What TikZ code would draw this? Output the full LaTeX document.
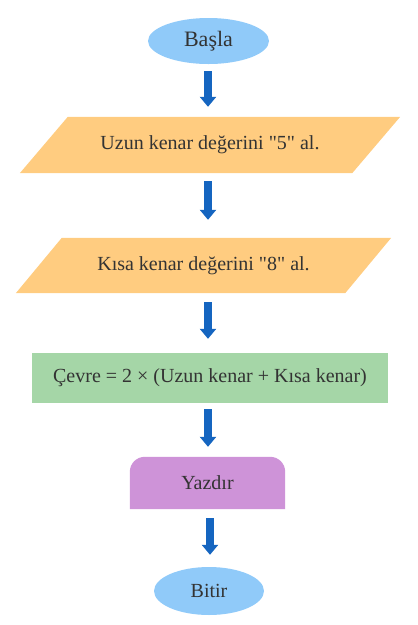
\documentclass[tikz,border=0pt]{standalone}
\usepackage{fontspec}
\setmainfont{Liberation Serif}[Ligatures=TeXOff]
\usetikzlibrary{shapes.geometric,arrows.meta,backgrounds}
\definecolor{ovalc}{HTML}{90CAF9}
\definecolor{ioc}{HTML}{FFCC80}
\definecolor{procc}{HTML}{A5D6A7}
\definecolor{outc}{HTML}{CE93D8}
\definecolor{arrc}{HTML}{1565C0}
\definecolor{txtc}{HTML}{333333}
\begin{document}
\begin{tikzpicture}[x=1pt,y=-1pt,
  every node/.style={text=txtc,font=\fontsize{20}{22}\selectfont,inner sep=0pt},
  oval/.style={ellipse,fill=ovalc},
  iobox/.style={rectangle},
  procbox/.style={rectangle,fill=procc},
  flowarr/.style={draw=arrc,line width=7.5pt,-{Triangle[width=16pt,length=10pt]}}
]
\useasboundingbox (0,0) rectangle (418,625);
\node[oval,minimum width=121pt,minimum height=46pt,font=\fontsize{22}{24}\selectfont] (basla) at (208.5,41) {Başla};
\node[iobox,minimum width=332pt,minimum height=56pt] (p1) at (210,145) {Uzun kenar değerini "5" al.};
\node[iobox,minimum width=329pt,minimum height=55pt] (p2) at (203.5,265.5) {Kısa kenar değerini "8" al.};
\node[procbox,minimum width=356pt,minimum height=50pt] (calc) at (210,378) {Çevre = 2 × (Uzun kenar + Kısa kenar)};
\node[minimum width=155pt,minimum height=52pt] (yaz) at (207.5,483) {Yazdır};
\node[oval,minimum width=110pt,minimum height=48pt] (bitir) at (209,591) {Bitir};
\begin{scope}[on background layer]
\fill[ioc] ([xshift=24pt]p1.north west) -- ([xshift=24pt]p1.north east) -- ([xshift=-24pt]p1.south east) -- ([xshift=-24pt]p1.south west) -- cycle;
\fill[ioc] ([xshift=23pt]p2.north west) -- ([xshift=23pt]p2.north east) -- ([xshift=-23pt]p2.south east) -- ([xshift=-23pt]p2.south west) -- cycle;
\fill[outc,rounded corners=15pt] (yaz.south east) -- (yaz.north east) -- (yaz.north west) -- (yaz.south west);
\end{scope}
\coordinate (ax) at (208,0);
\coordinate (bx) at (210,0);
\draw[flowarr,shorten <=7pt,shorten >=10pt] (ax |- basla.south) -- (ax |- p1.north);
\draw[flowarr,shorten <=8pt,shorten >=18pt] (ax |- p1.south) -- (ax |- p2.north);
\draw[flowarr,shorten <=9pt,shorten >=14pt] (ax |- p2.south) -- (ax |- calc.north);
\draw[flowarr,shorten <=6pt,shorten >=10pt] (ax |- calc.south) -- (ax |- yaz.north);
\draw[flowarr,shorten <=9pt,shorten >=12pt] (bx |- yaz.south) -- (bx |- bitir.north);
\end{tikzpicture}
\end{document}
